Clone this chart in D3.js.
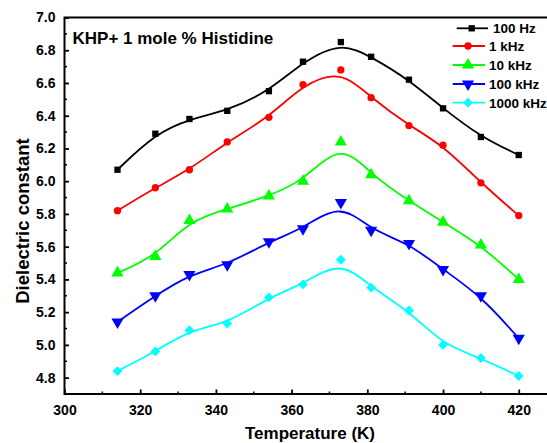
<!DOCTYPE html>
<html>
<head>
<meta charset="utf-8">
<script src="https://cdn.jsdelivr.net/npm/d3@7"></script>
<style>
  html, body { margin: 0; padding: 0; background: #fff; }
  svg { display: block; font-family: "Liberation Sans", Arial, sans-serif; font-weight: bold; }
</style>
</head>
<body>
<svg id="chart" width="547" height="443"></svg>
<script>
// Temperature (K) of each measurement
const temperatures = [314, 324, 333, 343, 354, 363, 373, 381, 391, 400, 410, 420];

// Dielectric constant at each frequency
const hz100   = [6.07, 6.29, 6.38, 6.43, 6.55, 6.73, 6.85, 6.76, 6.62, 6.445, 6.27, 6.16];
const khz1    = [5.82, 5.96, 6.07, 6.24, 6.39, 6.59, 6.68, 6.51, 6.34, 6.22, 5.99, 5.79];
const khz10   = [5.44, 5.54, 5.76, 5.83, 5.91, 6.00, 6.24, 6.04, 5.88, 5.75, 5.61, 5.40];
const khz100  = [5.14, 5.30, 5.43, 5.49, 5.63, 5.71, 5.87, 5.70, 5.62, 5.46, 5.30, 5.04];
const khz1000 = [4.84, 4.96, 5.09, 5.13, 5.29, 5.37, 5.52, 5.35, 5.21, 5.00, 4.92, 4.81];

const seriesNames = ["100 Hz", "1 kHz", "10 kHz", "100 kHz", "1000 kHz"];
const xTicks = [300, 320, 340, 360, 380, 400, 420];
const yTicks = [4.8, 5.0, 5.2, 5.4, 5.6, 5.8, 6.0, 6.2, 6.4, 6.6, 6.8, 7.0];
const chartTitle = "KHP+ 1 mole % Histidine";

const series = [
  { name: seriesNames[0], values: hz100,   color: "#000000", symbol: d3.symbolSquare,   size: 40, rot: 0 },
  { name: seriesNames[1], values: khz1,    color: "#ff0000", symbol: d3.symbolCircle,   size: 42, rot: 0 },
  { name: seriesNames[2], values: khz10,   color: "#00ff00", symbol: d3.symbolTriangle, size: 64, rot: 0 },
  { name: seriesNames[3], values: khz100,  color: "#0000ff", symbol: d3.symbolTriangle, size: 64, rot: 180 },
  { name: seriesNames[4], values: khz1000, color: "#00ffff", symbol: d3.symbolSquare,   size: 48, rot: 45 }
];

const svg = d3.select("#chart");

const x = d3.scaleLinear().domain([300, 430]).range([64.5, 556.6]);
const y = d3.scaleLinear().domain([4.7, 7.0]).range([394, 17.5]);

// Frame (right side runs past the visible area)
svg.append("rect")
  .attr("x", x(300)).attr("y", y(7.0))
  .attr("width", x(430) - x(300)).attr("height", y(4.7) - y(7.0))
  .attr("fill", "none").attr("stroke", "#000").attr("stroke-width", 2);

// Minor ticks (inward)
const xMinor = d3.range(310, 430, 20);
svg.append("g").selectAll("line").data(xMinor).join("line")
  .attr("x1", d => x(d)).attr("x2", d => x(d))
  .attr("y1", y(4.7)).attr("y2", y(4.7) - 2.5)
  .attr("stroke", "#000").attr("stroke-width", 1.5);
const yMinor = d3.range(4.9, 7.0, 0.2);
svg.append("g").selectAll("line").data(yMinor).join("line")
  .attr("x1", x(300)).attr("x2", x(300) + 2.5)
  .attr("y1", d => y(d)).attr("y2", d => y(d))
  .attr("stroke", "#000").attr("stroke-width", 1.5);

// X axis: major ticks inward, labels below
const xAxis = d3.axisBottom(x).tickValues(xTicks).tickSizeInner(-4.5).tickSizeOuter(0).tickPadding(11)
  .tickFormat(d3.format("d"));
const gx = svg.append("g").attr("transform", `translate(0,${y(4.7)})`).call(xAxis);
gx.select(".domain").remove();
gx.selectAll("line").attr("stroke-width", 1.8);
gx.selectAll("text").attr("font-size", 14).attr("font-weight", "bold").attr("font-family", "Liberation Sans, Arial, sans-serif").attr("fill", "#000");

// Y axis
const yAxis = d3.axisLeft(y).tickValues(yTicks).tickSizeInner(-4.5).tickSizeOuter(0).tickPadding(9)
  .tickFormat(d3.format(".1f"));
const gy = svg.append("g").attr("transform", `translate(${x(300)},0)`).call(yAxis);
gy.select(".domain").remove();
gy.selectAll("line").attr("stroke-width", 1.8);
gy.selectAll("text").attr("font-size", 14).attr("font-weight", "bold").attr("font-family", "Liberation Sans, Arial, sans-serif").attr("fill", "#000");

// Axis titles
svg.append("text")
  .attr("x", 310).attr("y", 439)
  .attr("text-anchor", "middle").attr("font-size", 17).text("Temperature (K)");
svg.append("text")
  .attr("transform", "translate(29,221) rotate(-90)")
  .attr("text-anchor", "middle").attr("font-size", 18.5).text("Dielectric constant");

// Title inside plot
svg.append("text")
  .attr("x", 72.5).attr("y", 44)
  .attr("font-size", 17).text(chartTitle);

// Smoothed curves and markers
const line = d3.line()
  .x((d, i) => x(temperatures[i]))
  .y(d => y(d))
  .curve(d3.curveBasis);

series.forEach(s => {
  svg.append("path")
    .attr("d", line(s.values))
    .attr("fill", "none").attr("stroke", s.color).attr("stroke-width", 1.8);
  const sym = d3.symbol().type(s.symbol).size(s.size);
  svg.append("g").selectAll("path").data(s.values).join("path")
    .attr("d", sym)
    .attr("transform", (d, i) => `translate(${x(temperatures[i])},${y(d)}) rotate(${s.rot})`)
    .attr("fill", s.color);
});

// Legend
const legendRows = [
  { lx1: 456.7, lx2: 488, mx: 471.7, ly: 28.3, tx: 493 },
  { lx1: 452.7, lx2: 485, mx: 468,   ly: 46,   tx: 489 },
  { lx1: 452.7, lx2: 485, mx: 468,   ly: 65,   tx: 489 },
  { lx1: 452.7, lx2: 485, mx: 468,   ly: 84,   tx: 489 },
  { lx1: 452.7, lx2: 485, mx: 468,   ly: 102.7, tx: 489 }
];
series.forEach((s, i) => {
  const r = legendRows[i];
  const g = svg.append("g");
  g.append("line").attr("x1", r.lx1).attr("x2", r.lx2).attr("y1", r.ly).attr("y2", r.ly)
    .attr("stroke", s.color).attr("stroke-width", 1.8);
  g.append("path").attr("d", d3.symbol().type(s.symbol).size(s.size)())
    .attr("transform", `translate(${r.mx},${r.ly}) rotate(${s.rot})`)
    .attr("fill", s.color);
  g.append("text").attr("x", r.tx).attr("y", r.ly + 5)
    .attr("font-size", 13.5).text(s.name);
});
</script>
</body>
</html>
